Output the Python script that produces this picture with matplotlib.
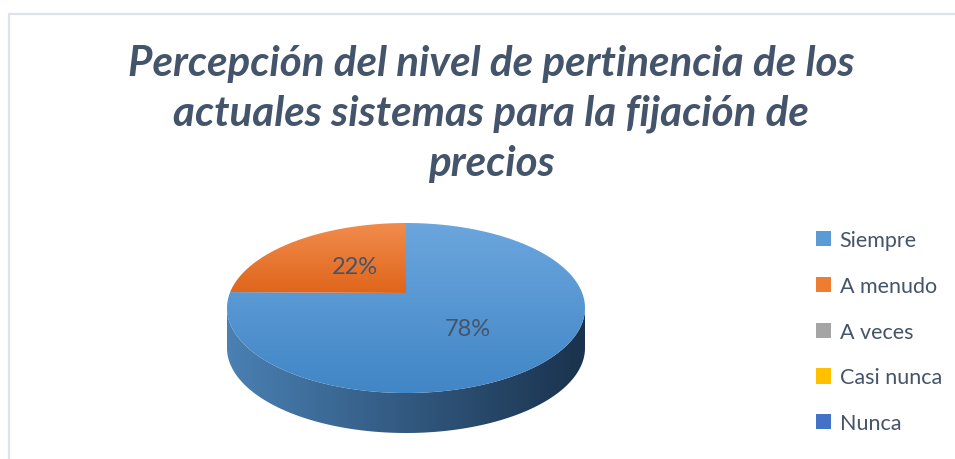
import numpy as np
import matplotlib
matplotlib.use("Agg")
import matplotlib.pyplot as plt
from matplotlib.patches import Polygon, Patch
from matplotlib.colors import LinearSegmentedColormap

title = "Percepción del nivel de pertinencia de los\nactuales sistemas para la fijación de\nprecios"
categories = ["Siempre", "A menudo", "A veces", "Casi nunca", "Nunca"]
values = [78, 22, 0, 0, 0]
colors = ["#5b9bd5", "#ed7d31", "#a5a5a5", "#ffc000", "#4472c4"]
top_grad = {0: ("#6ba6dd", "#4186c6"), 1: ("#f18c4c", "#df651b")}
side_grad = ("#4a80b3", "#1a324d")

W, H = 955, 460
fig = plt.figure(figsize=(W / 100, H / 100), dpi=100)
ax = fig.add_axes([0, 0, 1, 1])
ax.set_xlim(0, W)
ax.set_ylim(H, 0)
ax.axis("off")

# chart border
ax.plot([9, 9, W + 5], [H + 5, 14.5, 14.5], color="#dde3ea", lw=1.6, solid_capstyle="butt")

FONT = ["Lato", "DejaVu Sans"]
TXT = "#44546a"

ax.text(491, 114, title, ha="center", va="center", fontsize=30.3, fontweight="bold",
        fontstyle="italic", color=TXT, family=FONT, linespacing=1.38)

cx, cy, a, b, depth = 406, 309, 179, 85, 40


def ell(t, dy=0.0):
    return np.column_stack([cx + a * np.cos(t), cy - b * np.sin(t) + dy])


def grad_fill(poly_xy, c1, c2, horizontal=False):
    poly = Polygon(poly_xy, closed=True, facecolor="none", edgecolor="none")
    ax.add_patch(poly)
    cmap = LinearSegmentedColormap.from_list("g", [c1, c2])
    g = np.linspace(0, 1, 256)
    img = g[None, :] if horizontal else g[:, None]
    x0, y0 = poly_xy.min(axis=0)
    x1, y1 = poly_xy.max(axis=0)
    im = ax.imshow(img, cmap=cmap, extent=(x0, x1, y1, y0), aspect="auto",
                   interpolation="bicubic", zorder=2)
    im.set_clip_path(poly)


# side of the pie (front half)
total = sum(values)
t = np.linspace(np.pi, 2 * np.pi, 200)
side = np.vstack([ell(t), ell(t[::-1], depth)])
grad_fill(side, side_grad[0], side_grad[1], horizontal=True)

# top faces
start = np.pi / 2
for i, v in enumerate(values):
    if v <= 0:
        continue
    sweep = 2 * np.pi * v / total
    tt = np.linspace(start, start - sweep, 300)
    pts = np.vstack([[cx, cy - 15], ell(tt)])
    c1, c2 = top_grad[i]
    grad_fill(pts, c1, c2)
    start -= sweep

# percentage labels
ax.text(355, 268, f"{values[1]}%", ha="center", va="center", fontsize=17, color=TXT, family=FONT)
ax.text(468, 330, f"{values[0]}%", ha="center", va="center", fontsize=17, color=TXT, family=FONT)

handles = [Patch(facecolor=c, edgecolor="none") for c in colors]
leg = fig.legend(handles, categories, loc="upper left", bbox_to_anchor=(816 / W, 1 - 231 / H),
                 frameon=False, prop={"family": FONT, "size": 15.5}, labelcolor=TXT,
                 handlelength=0.7, handleheight=0.7, handletextpad=0.4, labelspacing=1.2,
                 borderaxespad=0, borderpad=0)

fig.savefig("out.png", dpi=100)
